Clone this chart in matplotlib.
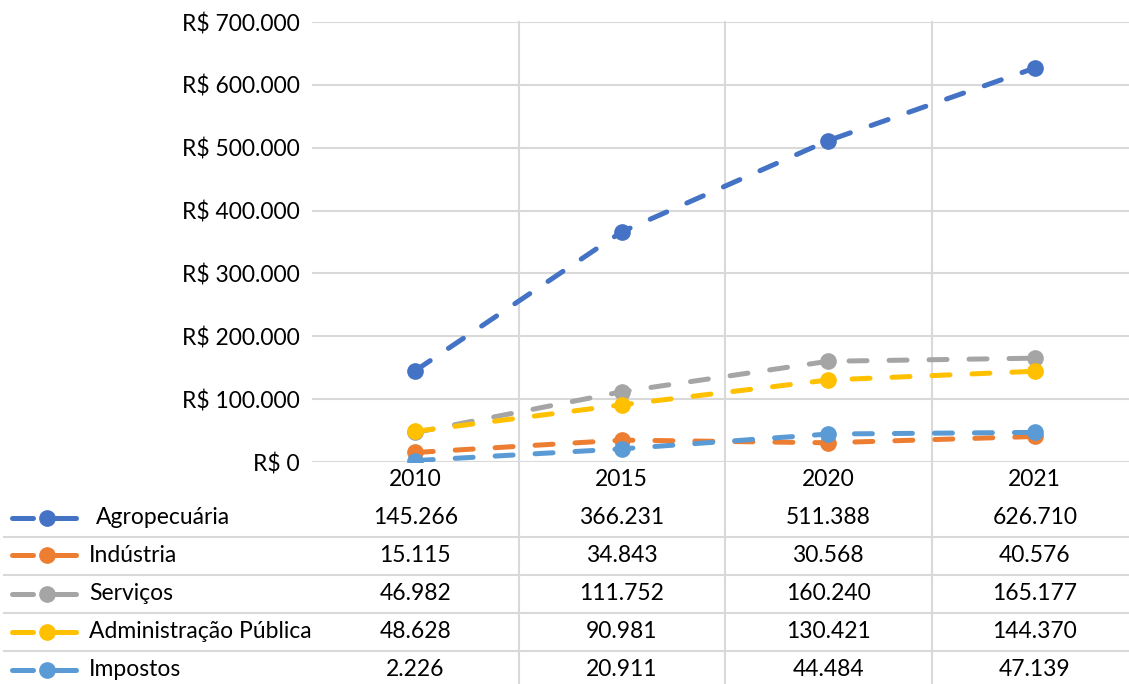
import matplotlib
matplotlib.use("Agg")
import matplotlib.pyplot as plt
from matplotlib.lines import Line2D
from matplotlib.transforms import blended_transform_factory

plt.rcParams['font.family'] = ['Lato', 'DejaVu Sans']

anos = ['2010', '2015', '2020', '2021']
series = ['Agropecuária', 'Indústria', 'Serviços', 'Administração Pública', 'Impostos']
agro = [145266, 366231, 511388, 626710]
industria = [15115, 34843, 30568, 40576]
servicos = [46982, 111752, 160240, 165177]
adm_publica = [48628, 90981, 130421, 144370]
impostos = [2226, 20911, 44484, 47139]
valores = [agro, industria, servicos, adm_publica, impostos]
cores = ['#4472C4', '#ED7D31', '#A5A5A5', '#FFC000', '#5B9BD5']

W, H = 1129, 684
FS = 16.5
GRID = '#D9D9D9'
LW = 3.6
MS = 11

def fmt(v):
    return f"{v:,}".replace(",", ".")

def fy(py):
    return (H - py) / H

fig = plt.figure(figsize=(W / 100, H / 100), dpi=100)
# area do grafico em pixels: x 312..1138, y 22..462
ax = fig.add_axes([312 / W, (H - 462) / H, (1138 - 312) / W, (462 - 22) / H])
ax.patch.set_visible(False)
ax.set_xlim(-0.5, len(anos) - 0.5)
ax.set_ylim(0, 700000)
ticks = list(range(0, 700001, 100000))
ax.set_yticks(ticks)
ax.set_yticklabels(['R$ 0' if t == 0 else 'R$ ' + fmt(t) for t in ticks], fontsize=FS)
ax.set_xticks([])
ax.tick_params(axis='y', length=0, pad=9)
for s in ax.spines.values():
    s.set_visible(False)
ax.grid(axis='y', color=GRID, linewidth=1.5)
ax.set_axisbelow(True)

x = list(range(len(anos)))
for nome, vals, c in zip(series, valores, cores):
    ax.plot(x, vals, color=c, linewidth=LW, linestyle=(0, (3.6, 4.4)),
            dash_capstyle='round', marker='o', markersize=MS, zorder=3, label=nome)

# separadores das categorias, da grade superior ate o fim da tabela
tr = blended_transform_factory(ax.transData, fig.transFigure)
for b in [0.5, 1.5, 2.5]:
    fig.add_artist(Line2D([b, b], [0, fy(22)], transform=tr, color=GRID, linewidth=1.5, zorder=0))

# linha dos anos
for i, a in enumerate(anos):
    ax.text(i, fy(480), a, transform=tr, ha='center', va='center', fontsize=FS)

row_y = [518, 555, 594, 632, 670]
sep_y = [537, 575, 613, 651]
for sy in sep_y:
    fig.add_artist(Line2D([4 / W, 1], [fy(sy), fy(sy)], transform=fig.transFigure,
                          color=GRID, linewidth=1.5, zorder=0))

for r, (nome, vals, c) in enumerate(zip(series, valores, cores)):
    yy = fy(row_y[r])
    fig.add_artist(Line2D([12 / W, 33 / W], [yy, yy], transform=fig.transFigure, color=c,
                          linewidth=LW, solid_capstyle='round'))
    fig.add_artist(Line2D([47 / W, 76 / W], [yy, yy], transform=fig.transFigure, color=c,
                          linewidth=LW, solid_capstyle='round'))
    fig.add_artist(Line2D([47 / W], [yy], transform=fig.transFigure, color=c,
                          marker='o', markersize=MS, linestyle='none'))
    lx = 96 if r == 0 else 89
    fig.text(lx / W, yy, nome, ha='left', va='center', fontsize=FS)
    for i, v in enumerate(vals):
        ax.text(i, yy, fmt(v), transform=tr, ha='center', va='center', fontsize=FS)

fig.savefig('out.png', dpi=100)
